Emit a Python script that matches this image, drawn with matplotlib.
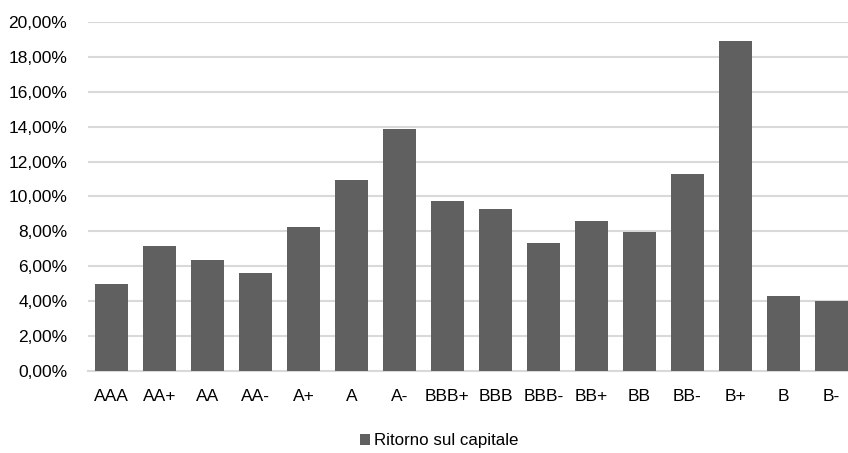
import matplotlib.pyplot as plt
import numpy as np
from matplotlib.ticker import FuncFormatter

plt.rcParams['font.family'] = ['Liberation Sans', 'DejaVu Sans']

rating = ['AAA', 'AA+', 'AA', 'AA-', 'A+', 'A', 'A-', 'BBB+', 'BBB', 'BBB-',
          'BB+', 'BB', 'BB-', 'B+', 'B', 'B-']
ritorno = [5.01, 7.15, 6.37, 5.64, 8.28, 10.92, 13.87, 9.75, 9.26, 7.32,
           8.62, 7.97, 11.28, 18.89, 4.30, 4.03]
yticks = [0, 2, 4, 6, 8, 10, 12, 14, 16, 18, 20]

x = np.arange(len(rating))

fig = plt.figure(figsize=(8.48, 4.53), dpi=100)
ax = fig.add_axes([87.5 / 848, 82 / 453, 768 / 848, 349 / 453])

ax.bar(x, ritorno, width=0.667, color='#606060', zorder=3, label='Ritorno sul capitale')

ax.set_xlim(-0.5, len(rating) - 0.5)
ax.set_ylim(0, 20)
ax.set_yticks(yticks)
ax.yaxis.set_major_formatter(FuncFormatter(lambda v, p: ('%.2f%%' % v).replace('.', ',')))
ax.set_xticks(x)
ax.set_xticklabels(rating)

ax.grid(axis='y', color='#d9d9d9', linewidth=1.5, zorder=0)
for s in ['top', 'right', 'left']:
    ax.spines[s].set_visible(False)
ax.spines['bottom'].set_color('#d9d9d9')
ax.spines['bottom'].set_linewidth(1.5)
ax.tick_params(axis='both', length=0, labelsize=12.5, colors='black')
ax.tick_params(axis='y', pad=14.5)
ax.tick_params(axis='x', pad=13)

fig.legend(loc='center', bbox_to_anchor=(439 / 848, 1 - 441 / 453), frameon=False,
           fontsize=12.2, handlelength=0.6, handleheight=0.6, handletextpad=0.25)

fig.savefig('out.png', dpi=100)
